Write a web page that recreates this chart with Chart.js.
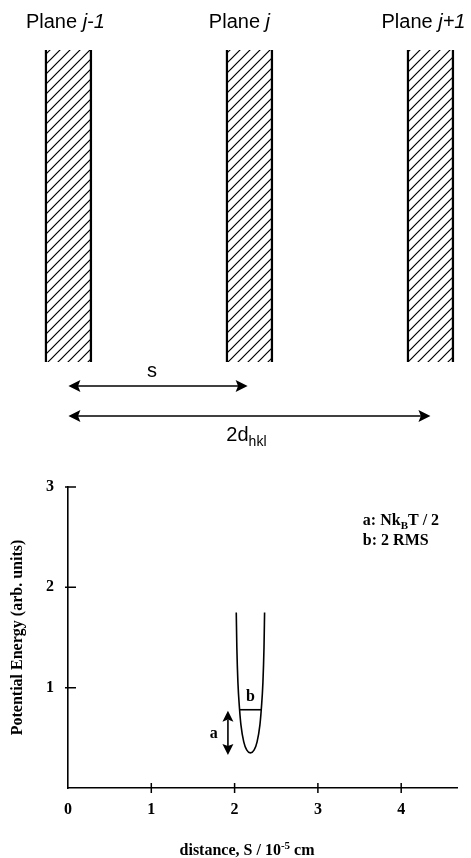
<!DOCTYPE html>
<html>
<head>
<meta charset="utf-8">
<script src="https://cdn.jsdelivr.net/npm/chart.js@4.4.1/dist/chart.umd.min.js"></script>
<style>
  html, body { margin: 0; padding: 0; background: #fff; }
  #wrap { position: relative; width: 471px; height: 858px; overflow: hidden; }
  #planes { position: absolute; left: 0; top: 0; }
  #energy { position: absolute; left: 0; top: 460px; }
</style>
</head>
<body>
<div id="wrap">
  <canvas id="planes" width="471" height="460"></canvas>
  <canvas id="energy" width="471" height="398"></canvas>
</div>
<script>
// ---- top diagram: lattice planes, positions in units of d_hkl ----
const planeNames = ['j-1', 'j', 'j+1'];
const planePos = [0, 1, 2];
const planeSpan = [0, 1];          // plane height (normalised)
const sArrow = [0, 0.99];          // s
const dArrow = [0, 2];             // 2 d_hkl

// ---- bottom chart: potential energy well ----
const distX = [2.02, 2.027, 2.04, 2.06, 2.076, 2.11, 2.145, 2.19, 2.235, 2.27, 2.304, 2.32, 2.34, 2.353, 2.36];
const energyY = [1.75, 1.40, 1.05, 0.78, 0.63, 0.46, 0.38, 0.35, 0.38, 0.46, 0.63, 0.78, 1.05, 1.40, 1.75];
const rmsX = [2.06, 2.32];         // b: 2 RMS
const rmsY = 0.78;
const kTX = 1.92;                  // a: NkBT / 2
const kTY = [0.33, 0.77];
const xTicks = [0, 1, 2, 3, 4];
const yTicks = [1, 2, 3];

const SANS = 'Arial, "Liberation Sans", sans-serif';
const SERIF = '"Times New Roman", "Liberation Serif", serif';

// draw a row of text pieces with their own fonts / offsets
function drawRuns(ctx, runs, x, y, align) {
  let total = 0;
  runs.forEach(r => { ctx.font = r.font; r.w = ctx.measureText(r.text).width; total += r.w; });
  let cx = align === 'center' ? x - total / 2 : x;
  ctx.textAlign = 'left';
  ctx.textBaseline = 'alphabetic';
  ctx.fillStyle = '#000';
  runs.forEach(r => { ctx.font = r.font; ctx.fillText(r.text, cx, y + (r.dy || 0)); cx += r.w; });
}

// double headed arrow
function arrow(ctx, x1, y1, x2, y2, len, half) {
  const a = Math.atan2(y2 - y1, x2 - x1);
  ctx.save();
  ctx.strokeStyle = '#000';
  ctx.fillStyle = '#000';
  ctx.lineWidth = 1.6;
  ctx.beginPath();
  ctx.moveTo(x1 + Math.cos(a) * len * 0.8, y1 + Math.sin(a) * len * 0.8);
  ctx.lineTo(x2 - Math.cos(a) * len * 0.8, y2 - Math.sin(a) * len * 0.8);
  ctx.stroke();
  [[x2, y2, a], [x1, y1, a + Math.PI]].forEach(([x, y, r]) => {
    ctx.save();
    ctx.translate(x, y);
    ctx.rotate(r);
    ctx.beginPath();
    ctx.moveTo(0, 0);
    ctx.lineTo(-len, -half);
    ctx.lineTo(-len * 0.8, 0);
    ctx.lineTo(-len, half);
    ctx.closePath();
    ctx.fill();
    ctx.restore();
  });
  ctx.restore();
}

// hatch fill for the planes
const planesCanvas = document.getElementById('planes');
const tile = document.createElement('canvas');
tile.width = tile.height = 10;
const tg = tile.getContext('2d');
tg.strokeStyle = '#000';
tg.lineWidth = 1.2;
tg.beginPath();
tg.moveTo(-1, 11); tg.lineTo(11, -1);
tg.moveTo(-6, 6); tg.lineTo(6, -6);
tg.moveTo(4, 16); tg.lineTo(16, 4);
tg.stroke();
const hatch = planesCanvas.getContext('2d').createPattern(tile, 'repeat');

const diagramText = {
  id: 'diagramText',
  afterDatasetsDraw(chart) {
    const {ctx, scales: {x, y}} = chart;
    const shift = [-3, -10, -7];
    planeNames.forEach((n, i) => {
      drawRuns(ctx, [
        {text: 'Plane ', font: '20px ' + SANS},
        {text: n, font: 'italic 20px ' + SANS}
      ], x.getPixelForValue(planePos[i]) + shift[i], y.getPixelForValue(1.07), 'center');
    });
    const ys = y.getPixelForValue(-0.077);
    arrow(ctx, x.getPixelForValue(sArrow[0]), ys, x.getPixelForValue(sArrow[1]), ys, 12, 6);
    drawRuns(ctx, [{text: 's', font: '20px ' + SANS}],
      x.getPixelForValue((sArrow[0] + sArrow[1]) / 2) - 6, ys - 9, 'center');
    const yd = y.getPixelForValue(-0.173);
    arrow(ctx, x.getPixelForValue(dArrow[0]), yd, x.getPixelForValue(dArrow[1]), yd, 12, 6);
    drawRuns(ctx, [
      {text: '2d', font: '20px ' + SANS},
      {text: 'hkl', font: '14px ' + SANS, dy: 5}
    ], x.getPixelForValue(1.0) - 3, yd + 25, 'center');
  }
};

new Chart(planesCanvas, {
  type: 'bar',
  data: {
    datasets: [{
      data: planePos.map(p => ({x: p, y: planeSpan})),
      backgroundColor: hatch,
      borderColor: '#000',
      borderWidth: {left: 1.8, right: 1.8, top: 0, bottom: 0},
      borderSkipped: false,
      barThickness: 47
    }]
  },
  options: {
    responsive: false,
    animation: false,
    layout: {padding: 0},
    plugins: {legend: {display: false}, tooltip: {enabled: false}},
    scales: {
      x: {type: 'linear', min: -0.378, max: 2.224, offset: false, grid: {offset: false}, display: false},
      y: {type: 'linear', min: -0.314, max: 1.160, display: false}
    }
  },
  plugins: [diagramText]
});

// ---- energy chart ----
const energyExtras = {
  id: 'energyExtras',
  afterDraw(chart) {
    const {ctx, scales: {x, y}, chartArea} = chart;
    ctx.save();
    ctx.strokeStyle = '#000';
    ctx.lineWidth = 1.5;
    ctx.beginPath();
    xTicks.slice(1).forEach(v => {
      const px = x.getPixelForValue(v);
      ctx.moveTo(px, chartArea.bottom - 5);
      ctx.lineTo(px, chartArea.bottom + 5);
    });
    yTicks.forEach(v => {
      const py = y.getPixelForValue(v);
      ctx.moveTo(chartArea.left - 3, py);
      ctx.lineTo(chartArea.left + 8, py);
    });
    ctx.stroke();
    ctx.restore();

    arrow(ctx, x.getPixelForValue(kTX), y.getPixelForValue(kTY[1]),
      x.getPixelForValue(kTX), y.getPixelForValue(kTY[0]), 11, 5.5);

    const B = 'bold 16px ' + SERIF;
    const Bs = 'bold 11px ' + SERIF;
    drawRuns(ctx, [{text: 'a', font: B}], x.getPixelForValue(1.75), y.getPixelForValue(0.55) + 5, 'center');
    drawRuns(ctx, [{text: 'b', font: B}], x.getPixelForValue(2.19), y.getPixelForValue(0.92) + 5, 'center');

    const lx = x.getPixelForValue(3.54);
    drawRuns(ctx, [
      {text: 'a: Nk', font: B},
      {text: 'B', font: Bs, dy: 4},
      {text: 'T / 2', font: B}
    ], lx, y.getPixelForValue(2.68) + 6, 'left');
    drawRuns(ctx, [{text: 'b: 2 RMS', font: B}], lx, y.getPixelForValue(2.48) + 6, 'left');

    drawRuns(ctx, [
      {text: 'distance, S / 10', font: B},
      {text: '-5', font: Bs, dy: -6},
      {text: ' cm', font: B}
    ], 247, chart.height - 3, 'center');
  }
};

new Chart(document.getElementById('energy'), {
  type: 'scatter',
  data: {
    datasets: [{
      data: distX.map((v, i) => ({x: v, y: energyY[i]})),
      showLine: true,
      pointRadius: 0,
      borderColor: '#000',
      borderWidth: 1.6,
      cubicInterpolationMode: 'monotone'
    }, {
      data: rmsX.map(v => ({x: v, y: rmsY})),
      showLine: true,
      pointRadius: 0,
      borderColor: '#000',
      borderWidth: 1.6
    }]
  },
  options: {
    responsive: false,
    animation: false,
    layout: {padding: {top: 27, right: 14, left: 0, bottom: 0}},
    plugins: {legend: {display: false}, tooltip: {enabled: false}},
    scales: {
      x: {
        type: 'linear', min: 0, max: 4.67,
        afterFit: s => { s.height = 70; },
        border: {display: true, color: '#000', width: 1.6},
        grid: {display: false, drawTicks: false},
        ticks: {
          stepSize: 1, padding: 12, color: '#000',
          font: {family: SERIF, size: 16, weight: 'bold'},
          callback: v => (xTicks.includes(v) ? String(v) : '')
        }
      },
      y: {
        type: 'linear', min: 0, max: 3,
        afterFit: s => { s.width = 68; },
        border: {display: true, color: '#000', width: 1.6},
        grid: {display: false, drawTicks: false},
        title: {
          display: true, text: 'Potential Energy (arb. units)', color: '#000',
          font: {family: SERIF, size: 16, weight: 'bold'},
          padding: {top: 8, bottom: 0}
        },
        ticks: {
          stepSize: 1, padding: 14, color: '#000',
          font: {family: SERIF, size: 16, weight: 'bold'},
          callback: v => (yTicks.includes(v) ? String(v) : '')
        }
      }
    }
  },
  plugins: [energyExtras]
});
</script>
</body>
</html>
